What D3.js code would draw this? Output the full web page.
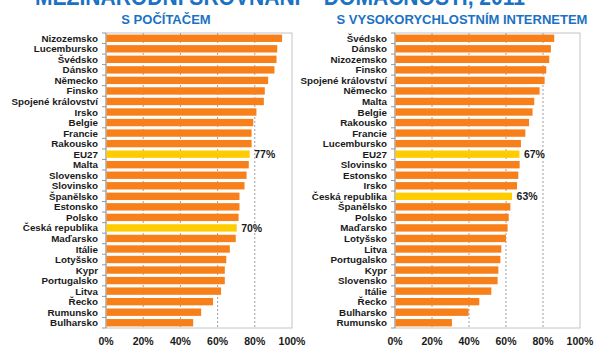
<!DOCTYPE html>
<html lang="cs">
<head>
  <meta charset="UTF-8">
  <title>Mezinárodní srovnání – domácnosti, 2011</title>
  <script src="https://d3js.org/d3.v7.min.js"></script>
  <style>
    body { margin: 0; background: #fff; }
    text { font-family: "Liberation Sans", Arial, sans-serif; }
  </style>
</head>
<body>
  <svg width="600" height="350"></svg>

  <script>
    // Data - households with a computer
    const pcCountries = ["Nizozemsko", "Lucembursko", "Švédsko", "Dánsko", "Německo", "Finsko",
      "Spojené království", "Irsko", "Belgie", "Francie", "Rakousko", "EU27", "Malta", "Slovensko",
      "Slovinsko", "Španělsko", "Estonsko", "Polsko", "Česká republika", "Maďarsko", "Itálie",
      "Lotyšsko", "Kypr", "Portugalsko", "Litva", "Řecko", "Rumunsko", "Bulharsko"];
    const pcValues = [94.4, 91.8, 91.4, 90.3, 86.9, 85.1, 84.6, 80.6, 78.9, 78, 78, 77, 76.5, 75.3,
      74.2, 71.5, 71.5, 71, 70, 69.5, 66.3, 64.4, 63.6, 63.6, 61.6, 57.3, 50.9, 46.6];

    // Data - households with broadband internet
    const bbCountries = ["Švédsko", "Dánsko", "Nizozemsko", "Finsko", "Spojené království", "Německo",
      "Malta", "Belgie", "Rakousko", "Francie", "Lucembursko", "EU27", "Slovinsko", "Estonsko", "Irsko",
      "Česká republika", "Španělsko", "Polsko", "Maďarsko", "Lotyšsko", "Litva", "Portugalsko", "Kypr",
      "Slovensko", "Itálie", "Řecko", "Bulharsko", "Rumunsko"];
    const bbValues = [85.8, 84, 83.1, 81.5, 80.6, 77.9, 75, 74.1, 72.2, 70.2, 67.8, 67, 67.1, 66.4, 65.7,
      63, 62.1, 61.2, 60.6, 59.7, 57.2, 56.7, 55.6, 55.2, 51.8, 45.3, 39.5, 30.5];

    const highlight = ["EU27", "Česká republika"];
    const xTicks = [0, 20, 40, 60, 80, 100];

    const svg = d3.select("svg");
    const orange = "#f7801a", yellow = "#ffcc00", blue = "#1b72c4";

    // Main title (cut off at the top, as in the original slide)
    svg.append("text")
      .attr("x", 280).attr("y", 5)
      .attr("text-anchor", "middle")
      .attr("fill", blue)
      .style("font-size", "24px").style("font-weight", "bold")
      .attr("textLength", 490).attr("lengthAdjust", "spacingAndGlyphs")
      .text("MEZINÁRODNÍ SROVNÁNÍ – DOMÁCNOSTI, 2011");

    function panel(cats, vals, x0, x1, title, titleX) {
      const top = 33, bottom = 328;
      const data = cats.map((c, i) => ({ c, v: vals[i] }));

      const x = d3.scaleLinear().domain([0, 100]).range([x0, x1]);
      const y = d3.scaleBand().domain(cats).range([top, bottom])
        .paddingInner(0.3).paddingOuter(0.15);

      const g = svg.append("g");

      svg.append("text")
        .attr("x", titleX).attr("y", 24)
        .attr("text-anchor", "middle")
        .attr("fill", blue)
        .style("font-size", "13px").style("font-weight", "bold")
        .text(title);

      // frame
      g.append("rect")
        .attr("x", x0).attr("y", top)
        .attr("width", x1 - x0).attr("height", bottom - top)
        .attr("fill", "none").attr("stroke", "#c4c4c4");

      // dashed grid
      g.selectAll(".grid").data(xTicks.slice(1, -1)).join("line")
        .attr("x1", d => x(d)).attr("x2", d => x(d))
        .attr("y1", top).attr("y2", bottom)
        .attr("stroke", "#a0a0a0")
        .attr("stroke-dasharray", "2,2");

      // category tick marks
      const step = y.step();
      g.selectAll(".tk").data(d3.range(cats.length + 1)).join("line")
        .attr("x1", x0 - 4).attr("x2", x0)
        .attr("y1", i => top + i * step).attr("y2", i => top + i * step)
        .attr("stroke", "#999");
      g.append("line")
        .attr("x1", x0).attr("x2", x0).attr("y1", top).attr("y2", bottom)
        .attr("stroke", "#999");

      // bars
      g.selectAll(".bar").data(data).join("rect")
        .attr("x", x(0) + 0.5)
        .attr("y", d => y(d.c))
        .attr("width", d => x(d.v) - x(0))
        .attr("height", y.bandwidth())
        .attr("fill", d => highlight.includes(d.c) ? yellow : orange);

      // category labels
      g.selectAll(".lab").data(data).join("text")
        .attr("x", x0 - 8)
        .attr("y", d => y(d.c) + y.bandwidth() / 2)
        .attr("dy", "0.36em")
        .attr("text-anchor", "end")
        .attr("fill", "#1a1a1a")
        .style("font-size", "9.8px").style("font-weight", "bold")
        .text(d => d.c);

      // value labels for highlighted bars
      g.selectAll(".val").data(data.filter(d => highlight.includes(d.c))).join("text")
        .attr("x", d => x(d.v) + 5)
        .attr("y", d => y(d.c) + y.bandwidth() / 2)
        .attr("dy", "0.36em")
        .attr("fill", "#1a1a1a")
        .style("font-size", "10.5px").style("font-weight", "bold")
        .text(d => Math.floor(d.v) + "%");

      // x tick labels
      g.selectAll(".xl").data(xTicks).join("text")
        .attr("x", d => x(d))
        .attr("y", 345)
        .attr("text-anchor", "middle")
        .attr("fill", "#1a1a1a")
        .style("font-size", "10.5px").style("font-weight", "bold")
        .text(d => d + "%");
    }

    panel(pcCountries, pcValues, 106, 292, "S POČÍTAČEM", 166);
    panel(bbCountries, bbValues, 395, 580, "S VYSOKORYCHLOSTNÍM INTERNETEM", 462);
  </script>
</body>
</html>
